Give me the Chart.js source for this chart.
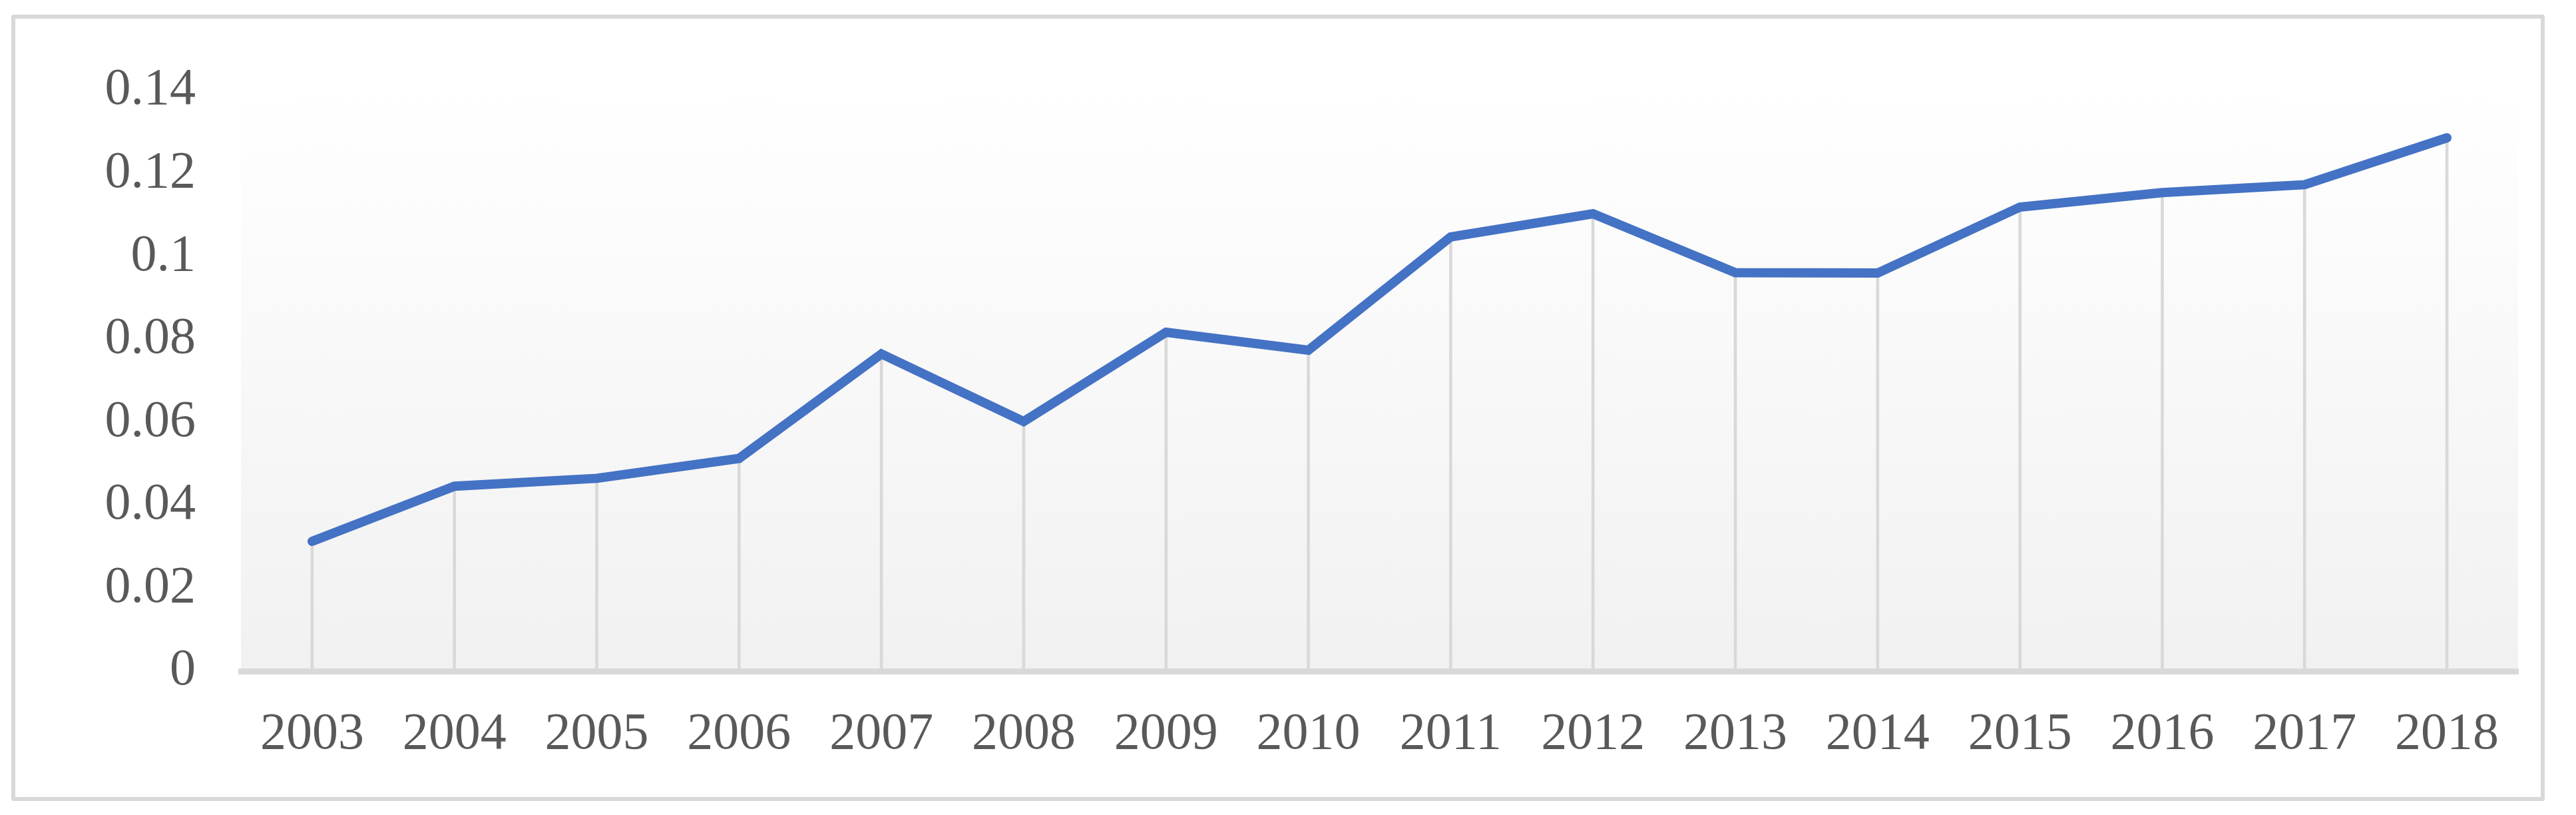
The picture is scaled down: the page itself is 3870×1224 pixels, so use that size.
<!DOCTYPE html>
<html>
<head>
<meta charset="utf-8">
<script src="https://cdn.jsdelivr.net/npm/chart.js@4.4.1/dist/chart.umd.min.js"></script>
<style>
    html, body { margin: 0; padding: 0; background: #ffffff; }
    #frame {
        position: absolute;
        left: 17px;
        top: 22px;
        width: 3806px;
        height: 1181px;
        box-sizing: border-box;
        border: 6px solid #d9d9d9;
        border-radius: 3px;
        background: #ffffff;
    }
    #chart { display: block; }
</style>
</head>
<body>
<div id="frame"><canvas id="chart" width="3794" height="1169"></canvas></div>
<script>
const years = ['2003', '2004', '2005', '2006', '2007', '2008', '2009', '2010',
               '2011', '2012', '2013', '2014', '2015', '2016', '2017', '2018'];
const values = [0.0313, 0.0446, 0.0465, 0.0513, 0.0765, 0.0602, 0.0817, 0.0774,
                0.1047, 0.1103, 0.0961, 0.0960, 0.1119, 0.1154, 0.1173, 0.1286];
const yTicks = [0, 0.02, 0.04, 0.06, 0.08, 0.1, 0.12, 0.14];

const textColor = '#595959';
const lineColor = '#4472c4';
const dropColor = '#d9d9d9';

// Plot area background: white at the top fading to light grey at the axis
const plotBackground = {
    id: 'plotBackground',
    beforeDraw(chart) {
        const { ctx, chartArea } = chart;
        const grad = ctx.createLinearGradient(0, chartArea.top, 0, chartArea.bottom);
        grad.addColorStop(0, '#ffffff');
        grad.addColorStop(1, '#f1f1f1');
        ctx.save();
        ctx.fillStyle = grad;
        ctx.fillRect(chartArea.left, chartArea.top, chartArea.right - chartArea.left, chartArea.bottom - chartArea.top);
        ctx.restore();
    }
};

const ctx = document.getElementById('chart').getContext('2d');

new Chart(ctx, {
    type: 'line',
    data: {
        labels: years,
        datasets: [{
            // the line itself
            type: 'line',
            data: values,
            borderColor: lineColor,
            borderWidth: 14,
            borderCapStyle: 'round',
            borderJoinStyle: 'miter',
            pointRadius: 0,
            tension: 0,
            fill: false,
            order: 1
        }, {
            // drop lines from each point down to the axis
            type: 'bar',
            data: values,
            backgroundColor: dropColor,
            barThickness: 4,
            order: 2
        }]
    },
    options: {
        responsive: false,
        animation: false,
        layout: {
            padding: { top: 108, right: 34, bottom: 0, left: 0 }
        },
        plugins: {
            legend: { display: false },
            tooltip: { enabled: false }
        },
        scales: {
            x: {
                offset: true,
                grid: { display: false, drawTicks: false },
                border: { display: true, color: '#d9d9d9', width: 9 },
                ticks: {
                    color: textColor,
                    padding: 49,
                    maxRotation: 0,
                    autoSkip: false,
                    font: { family: '"Liberation Serif", "Times New Roman", serif', size: 78 }
                },
                afterFit(scale) { scale.height = 189; }
            },
            y: {
                min: 0,
                max: 0.14,
                afterBuildTicks(scale) {
                    scale.ticks = yTicks.map(v => ({ value: v }));
                },
                grid: { display: false, drawTicks: false },
                border: { display: false },
                ticks: {
                    color: textColor,
                    padding: 68,
                    callback: v => String(Number(v.toFixed(2))),
                    font: { family: '"Liberation Serif", "Times New Roman", serif', size: 78 }
                },
                afterFit(scale) {
                    scale.width = 339;
                    scale.paddingTop = 0;
                    scale.paddingBottom = 0;
                }
            }
        }
    },
    plugins: [plotBackground]
});
</script>
</body>
</html>
